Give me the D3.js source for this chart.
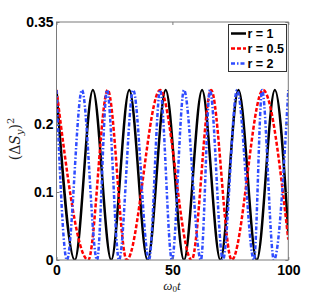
<!DOCTYPE html>
<html>
<head>
<meta charset="utf-8">
<script src="https://cdn.jsdelivr.net/npm/d3@7"></script>
<style>
  body { margin: 0; background: #fff; }
  .tick text { font-family: "Liberation Sans", Arial, sans-serif; font-weight: bold; font-size: 14px; fill: #000; }
  .legend text { font-family: "Liberation Sans", Arial, sans-serif; font-weight: bold; font-size: 12.5px; }
</style>
</head>
<body>
<div class="chart"></div>
<script>
// values: (omega0 t, (dS_y)^2) at peaks and zeros
var seriesNames = ["r = 1", "r = 0.5", "r = 2"];

var blackT = [0, 7.9, 15.7, 23.6, 31.4, 39.3, 47.1, 55.0, 62.8, 70.7, 78.5, 86.4, 94.2, 100];
var blackV = [0.25, 0, 0.25, 0, 0.25, 0, 0.25, 0, 0.25, 0, 0.25, 0, 0.25, 0.04];

var redT = [0, 13.7, 22.1, 30.3, 44.7, 58.3, 66.7, 75.6, 89.1, 100];
var redV = [0.25, 0, 0.25, 0, 0.25, 0, 0.25, 0, 0.25, 0.03];

var blueT = [0, 4.5, 11.0, 17.5, 21.8, 27.0, 33.1, 39.9, 44.7, 49.8, 55.0, 62.3, 66.2, 71.8, 77.9, 85.2, 88.7, 93.8, 100];
var blueV = [0.25, 0, 0.25, 0, 0.25, 0, 0.25, 0, 0.25, 0, 0.25, 0, 0.25, 0, 0.25, 0, 0.25, 0, 0.25];

var xTicks = [0, 50, 100];
var yTicks = [0, 0.1, 0.2, 0.35];

var width = 319,
    height = 293,
    plot = { left: 56.5, right: 288.3, top: 22, bottom: 260 };

var svg = d3.select(".chart").append("svg")
    .attr("width", width)
    .attr("height", height);

var x = d3.scaleLinear().domain([0, 100]).range([plot.left, plot.right]);
var y = d3.scaleLinear().domain([0, 0.35]).range([plot.bottom, plot.top]);

function pairs(ts, vs) {
  return ts.map(function(t, i) { return { t: t, v: vs[i] }; });
}

var series = [
  { name: seriesNames[0], data: pairs(blackT, blackV), color: "#000", dash: null },
  { name: seriesNames[1], data: pairs(redT, redV), color: "#ff0000", dash: "4,2" },
  { name: seriesNames[2], data: pairs(blueT, blueV), color: "#2f4cff", dash: "4,2,1.5,2" }
];

var line = d3.line()
    .x(function(d) { return x(d.t); })
    .y(function(d) { return y(d.v); })
    .curve(d3.curveMonotoneX);

svg.append("defs").append("clipPath").attr("id", "clip")
  .append("rect")
    .attr("x", plot.left).attr("y", plot.top)
    .attr("width", plot.right - plot.left).attr("height", plot.bottom - plot.top);

svg.append("g")
    .attr("clip-path", "url(#clip)")
  .selectAll("path")
  .data(series)
  .enter().append("path")
    .attr("d", function(s) { return line(s.data); })
    .attr("fill", "none")
    .attr("stroke", function(s) { return s.color; })
    .attr("stroke-width", 2.5)
    .attr("stroke-dasharray", function(s) { return s.dash; });

// axes, ticks pointing inward
var axisColor = "#7a7a7a";

var gx = svg.append("g")
    .attr("transform", "translate(0," + plot.bottom + ")")
    .call(d3.axisBottom(x).tickValues(xTicks).tickSize(-3).tickPadding(5).tickFormat(d3.format("d")));
var gxTop = svg.append("g")
    .attr("transform", "translate(0," + plot.top + ")")
    .call(d3.axisTop(x).tickValues(xTicks).tickSize(-3).tickFormat(""));
var gy = svg.append("g")
    .attr("transform", "translate(" + plot.left + ",0)")
    .call(d3.axisLeft(y).tickValues(yTicks).tickSize(-3).tickPadding(3).tickFormat(function(d) { return d === 0 ? "0" : String(d); }));
var gyRight = svg.append("g")
    .attr("transform", "translate(" + plot.right + ",0)")
    .call(d3.axisRight(y).tickValues(yTicks).tickSize(-3).tickFormat(""));

[gx, gxTop, gy, gyRight].forEach(function(g) {
  g.select(".domain").remove();
  g.selectAll(".tick line").attr("stroke", axisColor);
});

svg.append("rect")
    .attr("x", plot.left).attr("y", plot.top)
    .attr("width", plot.right - plot.left).attr("height", plot.bottom - plot.top)
    .attr("fill", "none")
    .attr("stroke", axisColor)
    .attr("stroke-width", 1);

// axis labels
var xl = svg.append("text")
    .attr("x", 172).attr("y", 290)
    .attr("text-anchor", "middle")
    .style("font-family", "'Liberation Serif', serif")
    .style("font-style", "italic")
    .style("font-size", "13px")
    .attr("fill", "#222");
xl.append("tspan").text("ω");
xl.append("tspan").attr("dy", 2).style("font-size", "9px").style("font-style", "normal").text("0");
xl.append("tspan").attr("dy", -2).text("t");

var yl = svg.append("text")
    .attr("transform", "translate(20,139) rotate(-90)")
    .attr("text-anchor", "middle")
    .style("font-family", "'DejaVu Serif', serif")
    .style("font-size", "14px")
    .attr("fill", "#222");
yl.append("tspan").text("(Δ");
yl.append("tspan").style("font-style", "italic").text("S");
yl.append("tspan").attr("dy", 3).style("font-style", "italic").style("font-size", "10px").text("y");
yl.append("tspan").attr("dy", -3).text(")");
yl.append("tspan").attr("dy", -6).style("font-size", "10px").text("2");

// legend
var legend = svg.append("g").attr("class", "legend");

legend.append("rect")
    .attr("x", 228.5).attr("y", 24.5)
    .attr("width", 58).attr("height", 47)
    .attr("fill", "#fff")
    .attr("stroke", "#333")
    .attr("stroke-width", 1);

var item = legend.selectAll(".item")
    .data(series)
    .enter().append("g")
    .attr("class", "item")
    .attr("transform", function(d, i) { return "translate(231," + (33.5 + i * 15) + ")"; });

item.append("line")
    .attr("x1", 0).attr("x2", 15)
    .attr("stroke", function(s) { return s.color; })
    .attr("stroke-width", 2.5)
    .attr("stroke-dasharray", function(s) { return s.dash; });

item.append("text")
    .attr("x", 16.5)
    .attr("dy", "0.35em")
    .text(function(s) { return s.name; });
</script>
</body>
</html>
